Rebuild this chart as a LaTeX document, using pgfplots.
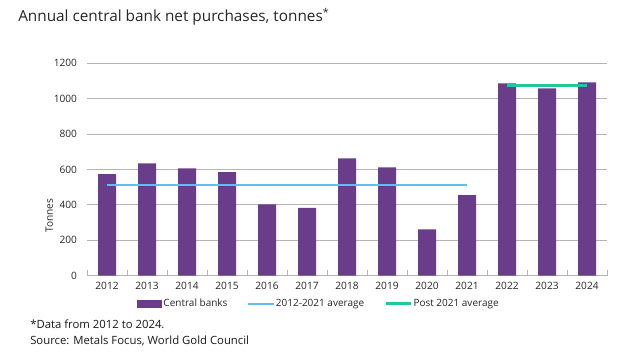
\documentclass[border=0pt]{standalone}
\usepackage{fontspec}
\setmainfont{Open Sans}
\usepackage{pgfplots}
\pgfplotsset{compat=1.18}
\definecolor{cbpurple}{HTML}{6A3D8A}
\definecolor{avgblue}{HTML}{62BDF0}
\definecolor{avggreen}{HTML}{1FC99C}
\definecolor{gridgray}{HTML}{B4B4B4}
\begin{document}
\begin{tikzpicture}
\useasboundingbox (0,0) rectangle (475.5pt,265.5pt);
\node[anchor=base west, font=\fontsize{11.5pt}{13pt}\selectfont, text=black!85, inner sep=0pt] at (13.5pt,249pt) {Annual central bank net purchases, tonnes\textsuperscript{*}};
\begin{axis}[
  at={(65.25pt,58.7pt)}, anchor=south west,
  scale only axis, width=390pt, height=159.3pt,
  xmin=-0.5, xmax=12.5, ymin=0, ymax=1200,
  ytick={0,200,...,1200},
  xtick={0,...,12},
  xticklabels={2012,2013,2014,2015,2016,2017,2018,2019,2020,2021,2022,2023,2024},
  minor xtick={-0.5,0.5,...,12.5},
  axis x line*=bottom, axis y line*=left,
  x axis line style={draw=gridgray, line width=0.8pt, -},
  y axis line style={draw=none},
  major tick style={draw=none},
  minor tick style={draw=gridgray, line width=0.6pt},
  minor tick length=4pt,
  ymajorgrids, grid style={draw=gridgray, line width=0.8pt},
  ticklabel style={font=\fontsize{7.6pt}{9pt}\selectfont, text=black!85},
  /pgf/number format/assume math mode=true,
  /pgf/number format/set thousands separator={},
  yticklabel style={xshift=-4pt},
  xticklabel style={yshift=-1pt},
  ylabel={Tonnes},
  every axis y label/.style={at={(ticklabel cs:0.5)}, rotate=90, anchor=center, xshift=-34.5pt,
    font=\fontsize{7.6pt}{9pt}\selectfont, text=black!85},
  legend style={at={(0.445,-0.095)}, anchor=north, draw=none, fill=none, legend columns=3,
    font=\fontsize{7.5pt}{9pt}\selectfont, text=black!85,
    nodes={inner xsep=1pt},
    /tikz/every even column/.append style={column sep=14pt}, inner sep=0pt},
  legend cell align=left,
]
\addplot[ybar, bar width=0.45, fill=cbpurple, draw=none, bar shift=0pt,
  legend image code/.code={\fill[fill=cbpurple] (0pt,-3pt) rectangle (19pt,3pt);}]
  coordinates {(0,574) (1,635) (2,607) (3,586) (4,403) (5,384) (6,663) (7,612) (8,262) (9,456) (10,1087) (11,1059) (12,1093)};
\addlegendentry{Central banks}
\addplot[draw=avgblue, line width=1.3pt, legend image code/.code={\draw[draw=avgblue, line width=1.3pt] (0pt,0pt) -- (19pt,0pt);}]
  coordinates {(0,512) (9,512)};
\addlegendentry{2012-2021 average}
\addplot[draw=avggreen, line width=2pt, legend image code/.code={\draw[draw=avggreen, line width=2pt] (0pt,0pt) -- (19pt,0pt);}]
  coordinates {(10,1076) (12,1076)};
\addlegendentry{Post 2021 average}
\end{axis}
\node[anchor=base west, font=\fontsize{8.5pt}{10pt}\selectfont, text=black!90, inner sep=0pt] at (22.5pt,19.5pt) {*Data from 2012 to 2024.};
\node[anchor=base west, font=\fontsize{8.5pt}{10pt}\selectfont, text=black!90, inner sep=0pt] at (22.5pt,7.5pt) {Source: Metals Focus, World Gold Council};
\end{tikzpicture}
\end{document}
